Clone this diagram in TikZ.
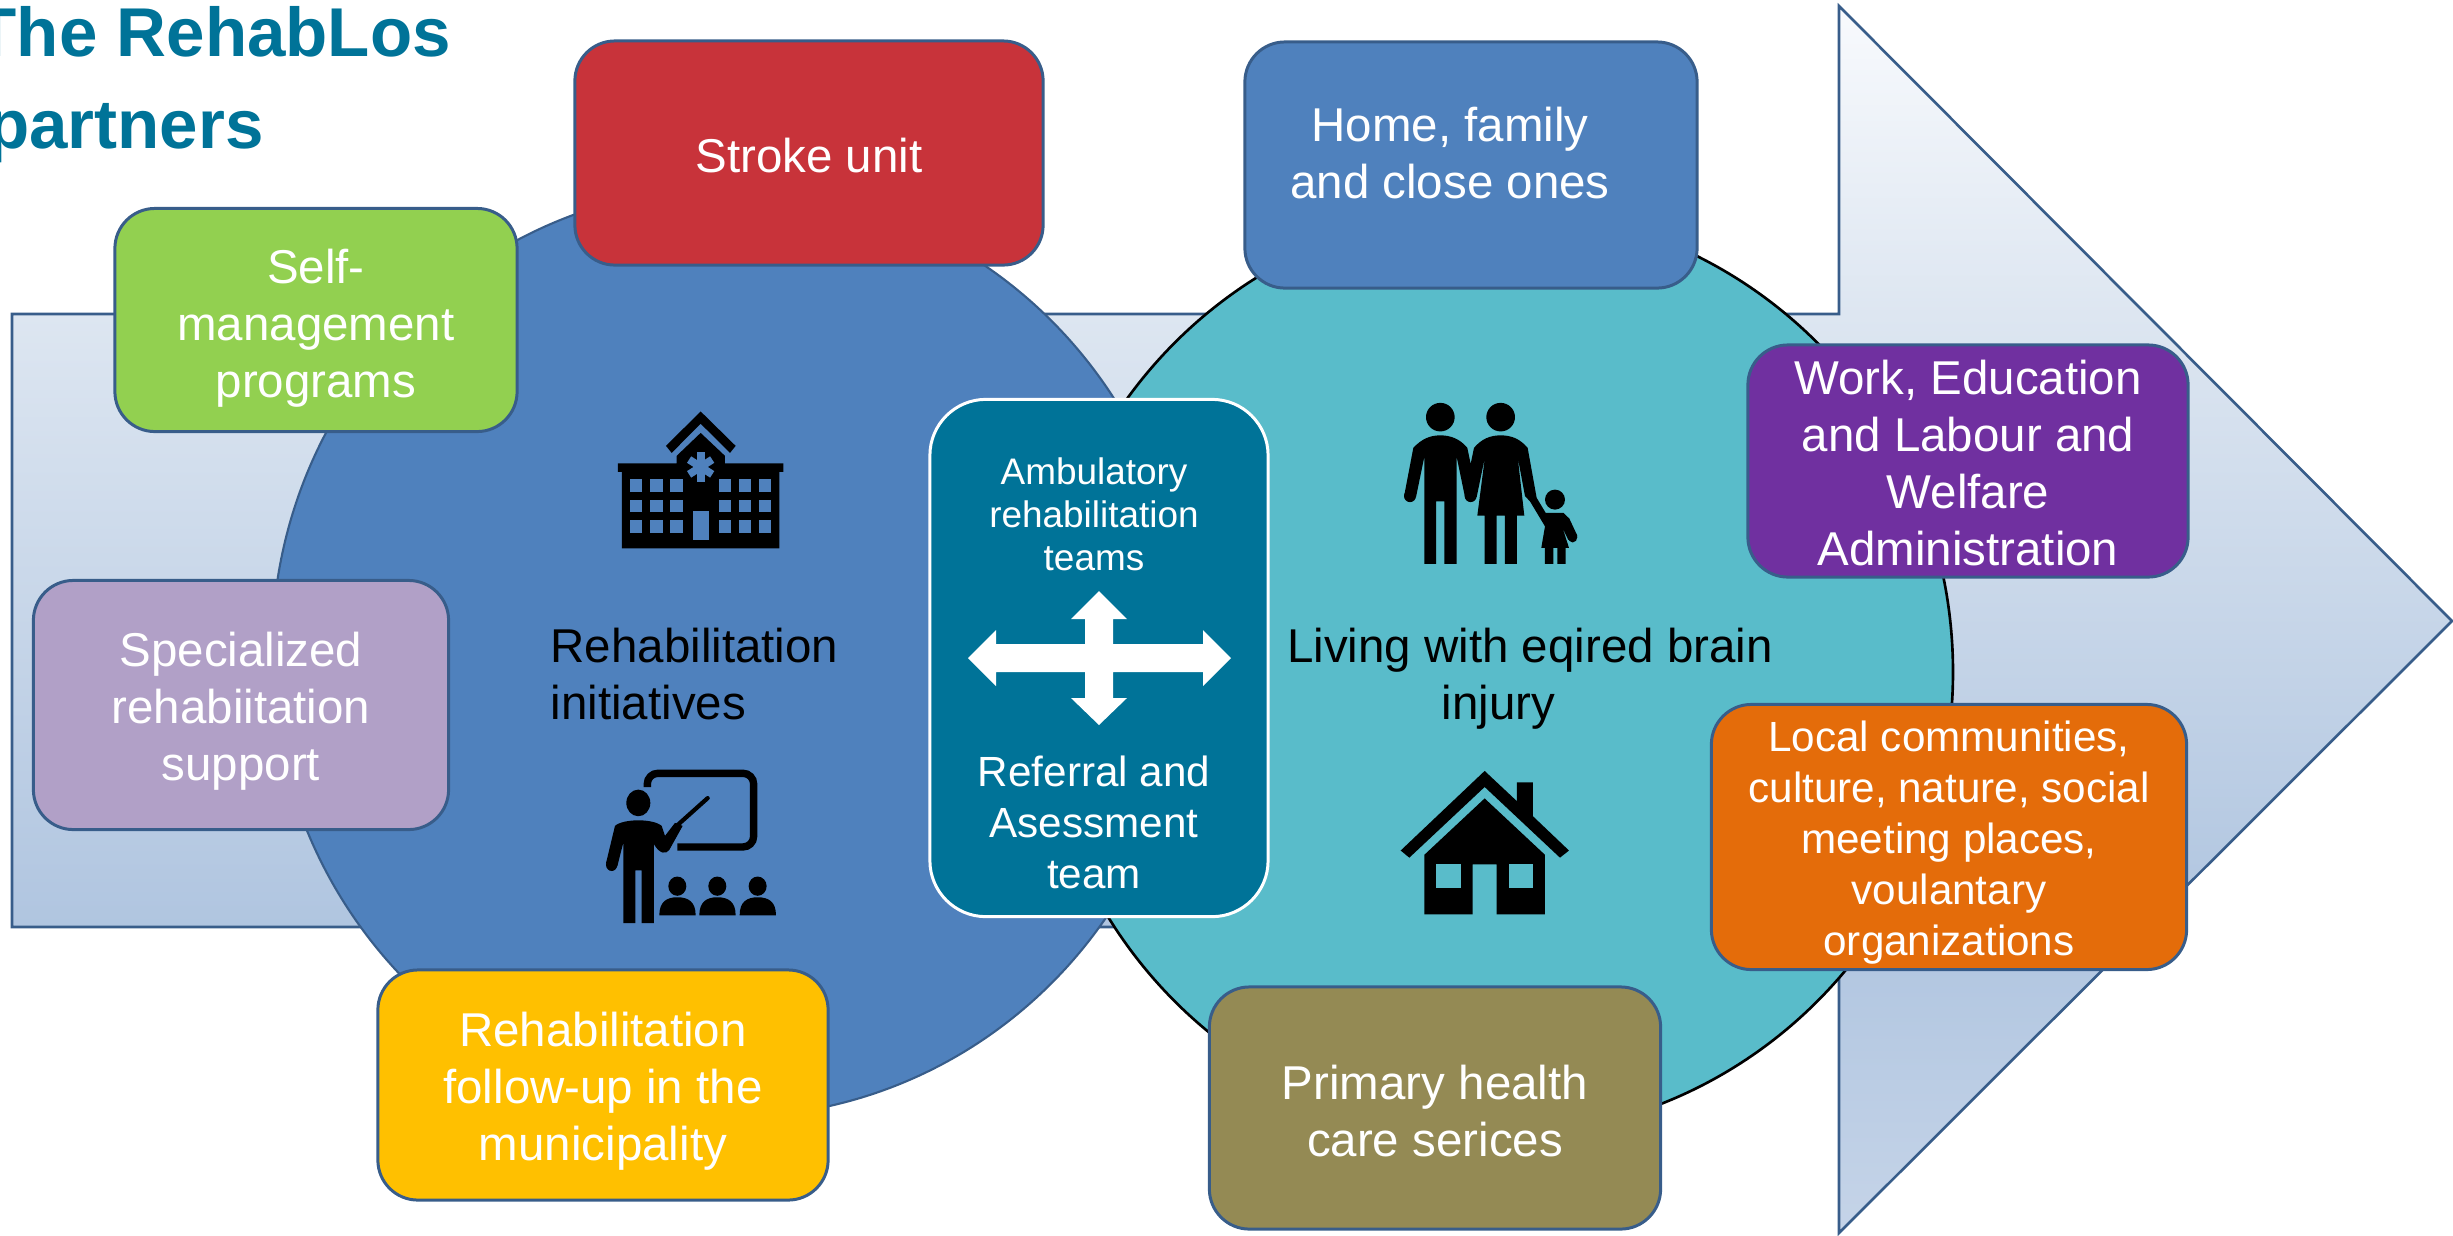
\documentclass[tikz,border=0pt]{standalone}
\usepackage{fontspec}
\setmainfont{Liberation Sans}
\definecolor{boxline}{HTML}{385D8A}
\definecolor{rehabblue}{HTML}{4F81BD}
\definecolor{livingteal}{HTML}{59BCCA}
\definecolor{titleteal}{HTML}{007398}
\definecolor{strokered}{HTML}{C8333A}
\definecolor{selfgreen}{HTML}{92D050}
\definecolor{speciallilac}{HTML}{B1A0C7}
\definecolor{followyellow}{HTML}{FFC000}
\definecolor{workpurple}{HTML}{7030A0}
\definecolor{localorange}{HTML}{E46C0A}
\definecolor{primaryolive}{HTML}{948A54}
\pgfdeclareverticalshading{arrowshade}{100bp}{%
  rgb(0bp)=(0.773,0.831,0.910); rgb(25bp)=(0.773,0.831,0.910);
  rgb(37.5bp)=(0.690,0.773,0.878);
  rgb(62.45bp)=(0.867,0.902,0.945);
  rgb(75bp)=(0.973,0.980,0.992); rgb(100bp)=(0.973,0.980,0.992)}

\begin{document}
\begin{tikzpicture}[x=0.01cm, y=-0.01cm]
\tikzset{partner/.style 2 args = {shape=rectangle, draw=boxline, line width=0.85pt, rounded corners=0.4cm, inner sep=0pt, minimum width=#1, minimum height=#2}}
\tikzset{caption/.style = {align=center, inner sep=0pt, font=\fontsize{13.5}{16.2}\selectfont}}
\tikzset{whitetext/.style = {caption, text=white}}
\tikzset{icon/.style = {fill=black, draw=none}}
\clip (0, 0) rectangle (2453, 1235);

\node[inner sep=0pt, anchor=north west, align=left, text=titleteal, font=\fontsize{19.65}{26}\selectfont\bfseries](title) at (-26, 6) {The RehabLos\\\hspace*{3.5pt}partners};

\path[shade, shading=arrowshade, draw=boxline, line width=0.75pt] (12, 314) -- (1839, 314) -- (1839, 6) -- (2452, 621) -- (1839, 1233) -- (1839, 927) -- (12, 927) -- cycle;
\draw[boxline, fill=rehabblue, line width=0.6pt] (730, 652) ellipse [x radius=458, y radius=465];
\draw[black, fill=livingteal, line width=0.75pt] (1496, 672) ellipse [x radius=457, y radius=463];

\node[partner={4.68cm}{2.24cm}, fill=strokered](strokeunit) at (809, 153) {};
\node[partner={4.02cm}{2.23cm}, fill=selfgreen](selfmanagement) at (316, 320) {};
\node[partner={4.15cm}{2.49cm}, fill=speciallilac](specialized) at (241, 705) {};
\node[partner={4.50cm}{2.30cm}, fill=followyellow](followup) at (603, 1085) {};
\node[partner={4.52cm}{2.46cm}, fill=rehabblue](home) at (1471, 165) {};
\node[partner={4.40cm}{2.32cm}, fill=workpurple](work) at (1968, 461) {};
\node[partner={4.75cm}{2.65cm}, fill=localorange](local) at (1949, 837) {};
\node[partner={4.51cm}{2.42cm}, fill=primaryolive](primary) at (1435, 1108) {};

\node[whitetext](strokeunittext) at (809, 156) {Stroke unit};
\node[whitetext](selfmanagementtext) at (316, 328) {Self-\\management\\programs};
\node[whitetext](specializedtext) at (241, 711) {Specialized\\rehabiitation\\support};
\node[whitetext](followuptext) at (603, 1091) {Rehabilitation\\follow-up in the\\municipality};
\node[whitetext](hometext) at (1450, 153) {Home, family\\and close ones};
\node[whitetext](worktext) at (1968, 463) {Work, Education\\and Labour and\\Welfare\\Administration};
\node[whitetext, font=\fontsize{12}{14.5}\selectfont](localtext) at (1949, 843) {Local communities,\\culture, nature, social\\meeting places,\\voulantary\\organizations};
\node[whitetext](primarytext) at (1435, 1111) {Primary health\\care serices};

\node[partner={3.38cm}{5.17cm}, draw=white, fill=titleteal, rounded corners=0.56cm](centerbox) at (1099, 658) {};
\node[whitetext, font=\fontsize{10.5}{12.2}\selectfont](ambulatory) at (1094, 514) {Ambulatory\\rehabilitation\\teams};
\node[whitetext, font=\fontsize{12}{14.5}\selectfont](referral) at (1094, 822) {Referral and\\Asessment\\team};
\fill[white] (968, 658) -- (996, 630) -- (996, 644) -- (1085, 644) -- (1085, 619) -- (1071, 619) -- (1099, 591) -- (1127, 619) -- (1113, 619) -- (1113, 644) -- (1203, 644) -- (1203, 630) -- (1231, 658) -- (1203, 686) -- (1203, 672) -- (1113, 672) -- (1113, 698) -- (1127, 698) -- (1099, 725) -- (1071, 698) -- (1085, 698) -- (1085, 672) -- (996, 672) -- (996, 686) -- cycle;

\node[caption, align=left, anchor=west](initiatives) at (550, 674) {Rehabilitation\\initiatives};
\node[caption](living) at (1530, 679) {Living with eqired brain\\injury\hspace*{18pt}};

% hospital
\begin{scope}[shift={(560, 380)}, xscale=0.3333, yscale=0.37]
\fill[icon] (422, 85) -- (527, 178) -- (510, 197) -- (422, 118) -- (335, 197) -- (318, 178) -- cycle;
\fill[icon] (174, 225) -- (350, 225) -- (350, 205) -- (422, 143) -- (495, 205) -- (495, 225) -- (670, 225) -- (670, 248) -- (658, 248) -- (658, 455) -- (186, 455) -- (186, 248) -- (174, 248) -- cycle;
\foreach \wx in {210, 271, 331, 476, 537, 597}
  \foreach \wy in {268, 323, 378}
    \fill[rehabblue] (\wx, \wy) rectangle ++(37, 35);
\fill[rehabblue] (398, 355) rectangle (447, 433);
\foreach \spoke in {30, 90, 150}
  \draw[rehabblue, line width=2.2pt] (422, 235) ++(\spoke:40) -- ++(\spoke+180:80);
\end{scope}

% teacher
\begin{scope}[shift={(560, 380)}, xscale=0.3333, yscale=0.37]
\draw[black, line width=2.1pt, rounded corners=3pt] (262, 1100) -- (262, 1063) -- (581, 1063) -- (581, 1262) -- (352, 1262);
\fill[icon] (235, 1143) ellipse [x radius=36, y radius=36];
\draw[black, line width=1.2pt, line cap=round] (350, 1205) -- (443, 1130);
\fill[icon] (155, 1310) ellipse [x radius=17, y radius=17];
\fill[icon] (165, 1205) .. controls (190, 1185) and (280, 1185) .. (305, 1205) -- (315, 1232) -- (345, 1197) -- (368, 1205) -- (328, 1270) .. controls (318, 1282) and (300, 1282) .. (282, 1255) -- (282, 1468) -- (245, 1468) -- (245, 1325) -- (226, 1325) -- (226, 1468) -- (190, 1468) -- (190, 1250) -- (172, 1314) -- (138, 1306) -- cycle;
\foreach \dx in {0, 120, 241} {
  \fill[icon] (352+\dx, 1368) ellipse [x radius=27, y radius=26];
  \fill[icon] (298+\dx, 1447) .. controls (298+\dx, 1410) and (320+\dx, 1398) .. (352+\dx, 1398) .. controls (385+\dx, 1398) and (407+\dx, 1410) .. (407+\dx, 1447) -- cycle;
}
\end{scope}

% family
\begin{scope}[shift={(1380, 380)}, xscale=0.3333, yscale=0.357]
\fill[icon] (181, 104) ellipse [x radius=43, y radius=40];
\fill[icon] (362, 104) ellipse [x radius=43, y radius=40];
\fill[icon] (525, 335) ellipse [x radius=30, y radius=28];
\fill[icon] (90, 325) ellipse [x radius=18, y radius=17];
\fill[icon] (272, 325) ellipse [x radius=18, y radius=17];
\fill[icon] (578, 440) ellipse [x radius=14, y radius=15];
\fill[icon] (100, 190) .. controls (125, 165) and (150, 155) .. (181, 155) .. controls (212, 155) and (240, 165) .. (262, 190) -- (272, 235) -- (282, 190) .. controls (305, 165) and (330, 155) .. (362, 155) .. controls (395, 155) and (420, 165) .. (443, 190) -- (470, 330) -- (497, 372) -- (550, 372) -- (568, 388) -- (592, 436) -- (565, 448) -- (548, 415) -- (567, 470) -- (557, 470) -- (557, 515) -- (532, 515) -- (532, 470) -- (520, 470) -- (520, 515) -- (495, 515) -- (495, 470) -- (484, 470) -- (495, 410) -- (450, 340) -- (435, 325) -- (413, 215) -- (433, 380) -- (411, 380) -- (411, 515) -- (375, 515) -- (375, 380) -- (350, 380) -- (350, 515) -- (314, 515) -- (314, 380) -- (292, 380) -- (315, 215) -- (290, 328) -- (255, 328) -- (230, 215) -- (230, 515) -- (193, 515) -- (193, 340) -- (168, 340) -- (168, 515) -- (133, 515) -- (133, 215) -- (108, 328) -- (73, 322) -- cycle;
\end{scope}

% house
\begin{scope}[shift={(1380, 380)}, xscale=0.3333, yscale=0.357]
\fill[icon] (314, 1095) -- (411, 1180) -- (411, 1127) -- (459, 1127) -- (459, 1222) -- (567, 1318) -- (540, 1338) -- (314, 1140) -- (88, 1338) -- (62, 1318) -- cycle;
\fill[icon] (314, 1172) -- (495, 1330) -- (495, 1497) -- (350, 1497) -- (350, 1357) -- (278, 1357) -- (278, 1497) -- (133, 1497) -- (133, 1330) -- cycle;
\fill[livingteal] (168, 1357) rectangle (242, 1424);
\fill[livingteal] (386, 1357) rectangle (459, 1424);
\end{scope}
\end{tikzpicture}
\end{document}
